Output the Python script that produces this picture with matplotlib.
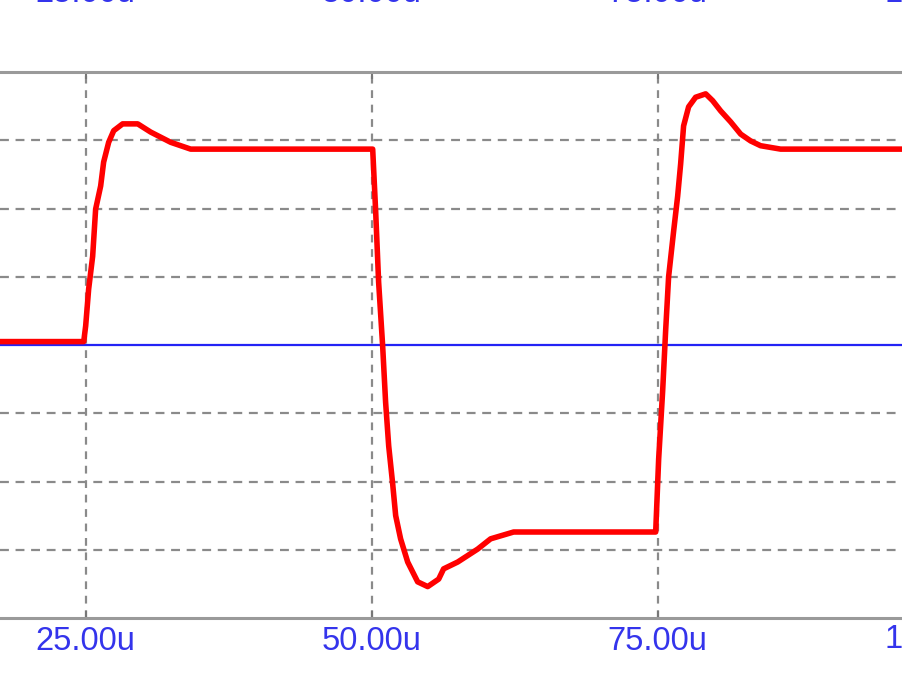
import matplotlib
matplotlib.use("Agg")
import matplotlib.pyplot as plt

# ---- data (time in microseconds, value in grid divisions) ----
red_t = [17.5, 24.83, 25.00, 25.26, 25.61, 25.87, 26.31, 26.57, 27.01, 27.45, 28.23, 29.55,
         30.68, 32.43, 34.18, 50.09, 50.35, 50.61, 50.96, 51.22, 51.49, 51.84, 52.10, 52.53,
         53.15, 54.02, 54.90, 55.86, 56.29, 57.52, 59.27, 60.40, 62.41, 74.83, 75.09, 75.44,
         75.70, 75.96, 76.40, 76.75, 77.01, 77.27, 77.71, 78.32, 79.20, 79.81, 80.51, 81.38,
         82.26, 83.13, 84.00, 85.75, 96.5]
red_v = [0.05, 0.05, 0.28, 0.82, 1.30, 1.99, 2.33, 2.68, 2.97, 3.14, 3.24, 3.24,
         3.12, 2.97, 2.87, 2.87, 1.96, 0.92, -0.01, -0.84, -1.48, -2.04, -2.50, -2.84,
         -3.18, -3.47, -3.54, -3.43, -3.28, -3.18, -2.99, -2.84, -2.74, -2.74, -1.67, -0.67,
         0.21, 1.00, 1.67, 2.18, 2.65, 3.21, 3.49, 3.63, 3.68, 3.58, 3.43, 3.27,
         3.09, 2.99, 2.92, 2.87, 2.87]
blue_t = [17.5, 96.5]
blue_v = [0.0, 0.0]
x_ticks = [25, 50, 75, 100]
x_tick_labels = ["25.00u", "50.00u", "75.00u", "100.00u"]
y_grid = [-3, -2, -1, 1, 2, 3]

LABEL_COLOR = "#3434ec"
GRID_COLOR = "#8a8a8a"
FS = 23.5

fig = plt.figure(figsize=(9.03, 6.73), dpi=100)
ax = fig.add_axes([0.0, 55 / 673, 1.0, 546 / 673])

# grid
for t in x_ticks:
    ax.axvline(t, color=GRID_COLOR, lw=1.6, ls=(0, (3.5, 3)), zorder=1)
for v in y_grid:
    ax.axhline(v, color=GRID_COLOR, lw=1.6, ls=(0, (4, 3)), zorder=1)

ax.plot(blue_t, blue_v, color="#2323f5", lw=1.6, zorder=2)
ax.plot(red_t, red_v, color="#ff0000", lw=4.0, zorder=3, solid_joinstyle="round")

# spines
for s in ["left", "right"]:
    ax.spines[s].set_visible(False)
for s in ["top", "bottom"]:
    ax.spines[s].set_color("#9a9a9a")
    ax.spines[s].set_linewidth(2.2)

ax.set_yticks([])
ax.set_xticks(x_ticks)
ax.set_xticklabels(x_tick_labels)
ax.tick_params(axis="x", direction="in", top=True, bottom=True, length=5, width=1.5,
               color="#777777", labelsize=FS, labelcolor=LABEL_COLOR, pad=6)
for lab in ax.get_xticklabels():
    lab.set_fontfamily("Liberation Sans")

ax.set_xlim(17.51, 96.45)
ax.set_ylim(-4, 4)

# partially visible tick label beyond the right edge
ax.text(x_ticks[-1], -30 / 546, x_tick_labels[-1], transform=ax.get_xaxis_transform(),
        ha="center", va="baseline", fontsize=FS, color=LABEL_COLOR,
        family="Liberation Sans", clip_on=False)

# top labels (from panel above, mostly cut off)
for t, lab in zip(x_ticks, x_tick_labels):
    ax.text(t, 1.0 + (72 - 2) / 546, lab, transform=ax.get_xaxis_transform(), ha="center",
            va="baseline", fontsize=FS, color=LABEL_COLOR, family="Liberation Sans",
            clip_on=False)

fig.savefig("out.png", dpi=100)
